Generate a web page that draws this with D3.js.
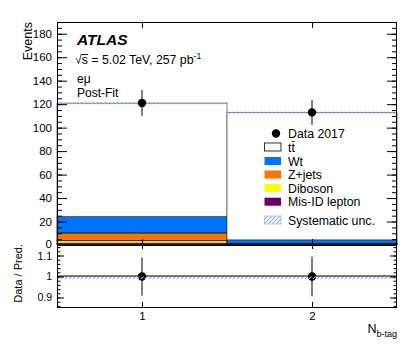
<!DOCTYPE html>
<html><head><meta charset="utf-8">
<script src="https://cdn.jsdelivr.net/npm/d3@7"></script>
<style>body{margin:0;background:#fff} svg{display:block} text{font-family:"Liberation Sans",Arial,Helvetica,sans-serif;fill:#000}</style>
</head><body><svg id="c" width="414" height="353"></svg>
<script>
// ---- data ----
const categories = [1, 2];
const ttbar   = [96.4, 108.4];
const wt      = [14.1, 3.0];
const zjets   = [6.6, 0.8];
const diboson = [2.2, 0.3];
const misid   = [1.5, 0.3];
const dataVals = [121, 113];
const dataErr  = [11.0, 10.6];
const systUnc  = [0.9, 0.9];
const ratioVals = [1.0, 1.0];
const ratioErr  = [0.091, 0.094];
const ratioSyst = [0.007, 0.007];
const yTicks = [0, 20, 40, 60, 80, 100, 120, 140, 160, 180];
const ratioTicks = [0.9, 1.0, 1.1];
const xTicks = [1, 2];
const seriesNames = ["Mis-ID lepton", "Diboson", "Z+jets", "Wt", "tt"];
const seriesColors = ["#660066", "#ffff00", "#ff7400", "#0073ff", "#ffffff"];

// ---- layout ----
const L = 57, R = 397, T = 22, MB = 245, RB = 308;
const svg = d3.select("#c");
const x = d3.scaleLinear().domain([0.5, 2.5]).range([L, R]);
const y = d3.scaleLinear().domain([0, 190]).range([MB, T]);
const yr = d3.scaleLinear().domain([0.85, 1.15]).range([RB, MB]);

const defs = svg.append("defs");
const pat = defs.append("pattern").attr("id", "hatch").attr("patternUnits", "userSpaceOnUse")
  .attr("width", 4).attr("height", 4);
pat.append("path").attr("d", "M-1,1 l2,-2 M0,4 l4,-4 M3,5 l2,-2")
  .attr("stroke", "#8eaaec").attr("stroke-width", 1.1).attr("fill", "none");

// ---- stack ----
const rows = categories.map((c, i) => ({c, s0: misid[i], s1: diboson[i], s2: zjets[i], s3: wt[i], s4: ttbar[i]}));
const stack = d3.stack().keys(["s0", "s1", "s2", "s3", "s4"])(rows);
const gs = svg.append("g");
stack.forEach((layer, k) => {
  gs.selectAll(null).data(layer).enter().append("rect")
    .attr("x", d => x(d.data.c - 0.5))
    .attr("width", d => x(d.data.c + 0.5) - x(d.data.c - 0.5))
    .attr("y", d => y(d[1]))
    .attr("height", d => y(d[0]) - y(d[1]))
    .attr("fill", seriesColors[k])
    .attr("stroke", k === 4 ? "#5a5a5a" : "#111").attr("stroke-width", 0.8);
});
// syst band
const totals = categories.map((c, i) => misid[i] + diboson[i] + zjets[i] + wt[i] + ttbar[i]);
svg.append("g").selectAll(null).data(categories).enter().append("rect")
  .attr("x", (c) => x(c - 0.5)).attr("width", c => x(c + 0.5) - x(c - 0.5))
  .attr("y", (c, i) => y(totals[i] + systUnc[i]))
  .attr("height", (c, i) => y(totals[i] - systUnc[i]) - y(totals[i] + systUnc[i]))
  .attr("fill", "url(#hatch)");

// data points
const gd = svg.append("g");
categories.forEach((c, i) => {
  gd.append("line").attr("x1", x(c)).attr("x2", x(c))
    .attr("y1", y(dataVals[i] - dataErr[i])).attr("y2", y(dataVals[i] + dataErr[i]))
    .attr("stroke", "#000").attr("stroke-width", 1);
  gd.append("circle").attr("cx", x(c)).attr("cy", y(dataVals[i])).attr("r", 4.2).attr("fill", "#000");
});

// ratio panel
svg.append("g").selectAll(null).data(categories).enter().append("rect")
  .attr("x", c => x(c - 0.5)).attr("width", c => x(c + 0.5) - x(c - 0.5))
  .attr("y", (c, i) => yr(1 + ratioSyst[i] * 0.3))
  .attr("height", (c, i) => yr(1 - ratioSyst[i] * 1.7) - yr(1 + ratioSyst[i] * 0.3))
  .attr("fill", "url(#hatch)");
svg.append("line").attr("x1", L).attr("x2", R).attr("y1", yr(1) - 0.5).attr("y2", yr(1) - 0.5)
  .attr("stroke", "#000").attr("stroke-width", 1);
categories.forEach((c, i) => {
  gd.append("line").attr("x1", x(c)).attr("x2", x(c))
    .attr("y1", yr(ratioVals[i] - ratioErr[i])).attr("y2", yr(ratioVals[i] + ratioErr[i]))
    .attr("stroke", "#000").attr("stroke-width", 1);
  gd.append("circle").attr("cx", x(c)).attr("cy", yr(ratioVals[i])).attr("r", 4.2).attr("fill", "#000");
});

// ---- frames ----
svg.append("rect").attr("x", L + 0.5).attr("y", T + 0.5).attr("width", R - L - 1).attr("height", MB - T)
  .attr("fill", "none").attr("stroke", "#000").attr("stroke-width", 1);
svg.append("rect").attr("x", L + 0.5).attr("y", MB + 0.5).attr("width", R - L - 1).attr("height", RB - MB - 1)
  .attr("fill", "none").attr("stroke", "#000").attr("stroke-width", 1);

// ---- axes ----
function clean(g) { g.select(".domain").remove(); g.selectAll("line").attr("stroke", "#000"); }
const minorMain = d3.range(0, 191, 5);
const minorRatio = d3.range(0.86, 1.15, 0.02);
svg.append("g").attr("transform", `translate(${L},0)`)
  .call(d3.axisLeft(y).tickValues(minorMain).tickSize(-5).tickFormat("")).call(clean);
svg.append("g").attr("transform", `translate(${R},0)`)
  .call(d3.axisRight(y).tickValues(minorMain).tickSize(-5).tickFormat("")).call(clean);
svg.append("g").attr("transform", `translate(${R},0)`)
  .call(d3.axisRight(y).tickValues(yTicks).tickSize(-10).tickFormat("")).call(clean);
const ya = svg.append("g").attr("transform", `translate(${L},0)`)
  .call(d3.axisLeft(y).tickValues(yTicks).tickSize(-10).tickPadding(5)).call(clean);
ya.selectAll("text").attr("font-size", 11.5).attr("font-family", null)
  .attr("dy", d => d === 0 ? "0.2em" : "0.32em");

svg.append("g").attr("transform", `translate(${L},0)`)
  .call(d3.axisLeft(yr).tickValues(minorRatio).tickSize(-3.5).tickFormat("")).call(clean);
svg.append("g").attr("transform", `translate(${R},0)`)
  .call(d3.axisRight(yr).tickValues(minorRatio).tickSize(-3.5).tickFormat("")).call(clean);
svg.append("g").attr("transform", `translate(${R},0)`)
  .call(d3.axisRight(yr).tickValues(ratioTicks).tickSize(-7).tickFormat("")).call(clean);
const ra = svg.append("g").attr("transform", `translate(${L},0)`)
  .call(d3.axisLeft(yr).tickValues(ratioTicks).tickSize(-7).tickPadding(5)
    .tickFormat(d => Math.abs(d - 1) < 1e-9 ? "1" : d3.format(".1f")(d))).call(clean);
ra.selectAll("text").attr("font-size", 10.5).attr("font-family", null)
  .attr("dy", d => d > 1.05 ? "0.42em" : "0.32em");

// x ticks
svg.append("g").attr("transform", `translate(0,${T})`)
  .call(d3.axisTop(x).tickValues(xTicks).tickSize(-6).tickFormat("")).call(clean);
svg.append("g").attr("transform", `translate(0,${MB})`)
  .call(d3.axisBottom(x).tickValues(xTicks).tickSize(-6).tickFormat("")).call(clean);
svg.append("g").attr("transform", `translate(0,${MB})`)
  .call(d3.axisTop(x).tickValues(xTicks).tickSize(-4).tickFormat("")).call(clean);
svg.append("g").attr("transform", `translate(0,${RB})`)
  .call(d3.axisBottom(x).tickValues(xTicks).tickSize(-6).tickPadding(3.5).tickFormat(d3.format("d"))).call(clean)
  .selectAll("text").attr("font-size", 11.5).attr("font-family", null);

// axis titles
svg.append("text").attr("transform", "translate(32,22) rotate(-90)").attr("text-anchor", "end")
  .attr("font-size", 12.5).text("Events");
svg.append("text").attr("transform", "translate(22,244) rotate(-90)").attr("text-anchor", "end")
  .attr("font-size", 11).text("Data / Pred.");
const xt = svg.append("text").attr("x", 397).attr("y", 333).attr("text-anchor", "end").attr("font-size", 12.5);
xt.append("tspan").text("N");
xt.append("tspan").attr("dy", 3.5).attr("font-size", 9).text("b-tag");

// labels
svg.append("text").attr("x", 77).attr("y", 45).attr("font-size", 15.5).attr("font-weight", "bold")
  .attr("font-style", "italic").text("ATLAS");
const en = svg.append("text").attr("x", 75).attr("y", 64).attr("font-size", 12.3);
en.append("tspan").text("√");
en.append("tspan").text("s");
en.append("tspan").text(" = 5.02 TeV, 257 pb");
en.append("tspan").attr("dy", -5).attr("font-size", 8.5).text("-1");
{
  const node = en.node();
  const s0 = node.getStartPositionOfChar(1), s1 = node.getEndPositionOfChar(1);
  svg.append("line").attr("x1", s0.x - 0.5).attr("x2", s1.x + 0.3).attr("y1", 54.5).attr("y2", 54.5)
    .attr("stroke", "#000").attr("stroke-width", 0.9);
}
svg.append("text").attr("x", 77).attr("y", 83).attr("font-size", 12).text("eμ");
svg.append("text").attr("x", 77).attr("y", 97).attr("font-size", 12).text("Post-Fit");

// legend
const lg = svg.append("g");
const legRows = [133.5, 147, 161, 174.5, 188, 201.7, 220];
lg.append("circle").attr("cx", 276).attr("cy", legRows[0]).attr("r", 4.2).attr("fill", "#000");
lg.append("text").attr("x", 288).attr("y", legRows[0] + 4.5).attr("font-size", 12.3).text("Data 2017");
const legOrder = [4, 3, 2, 1, 0];
legOrder.forEach((k, j) => {
  const cy = legRows[j + 1];
  lg.append("rect").attr("x", 264.5).attr("y", cy - 4).attr("width", 16.5).attr("height", 8)
    .attr("fill", seriesColors[k]).attr("stroke", k === 4 ? "#000" : "none").attr("stroke-width", 0.8);
  const t = lg.append("text").attr("x", 288).attr("y", cy + 4.5).attr("font-size", 12.3).text(seriesNames[k]);
  if (k === 4) {
    const n = t.node();
    const a = n.getStartPositionOfChar(1), b = n.getEndPositionOfChar(1);
    lg.append("line").attr("x1", a.x + 0.3).attr("x2", b.x).attr("y1", cy - 5.5).attr("y2", cy - 5.5)
      .attr("stroke", "#000").attr("stroke-width", 0.8);
  }
});
lg.append("rect").attr("x", 264.5).attr("y", legRows[6] - 4).attr("width", 16.5).attr("height", 8)
  .attr("fill", "url(#hatch)").attr("stroke", "#a8bde8").attr("stroke-width", 0.8);
lg.append("text").attr("x", 288).attr("y", legRows[6] + 4.5).attr("font-size", 12.3).text("Systematic unc.");
</script></body></html>
